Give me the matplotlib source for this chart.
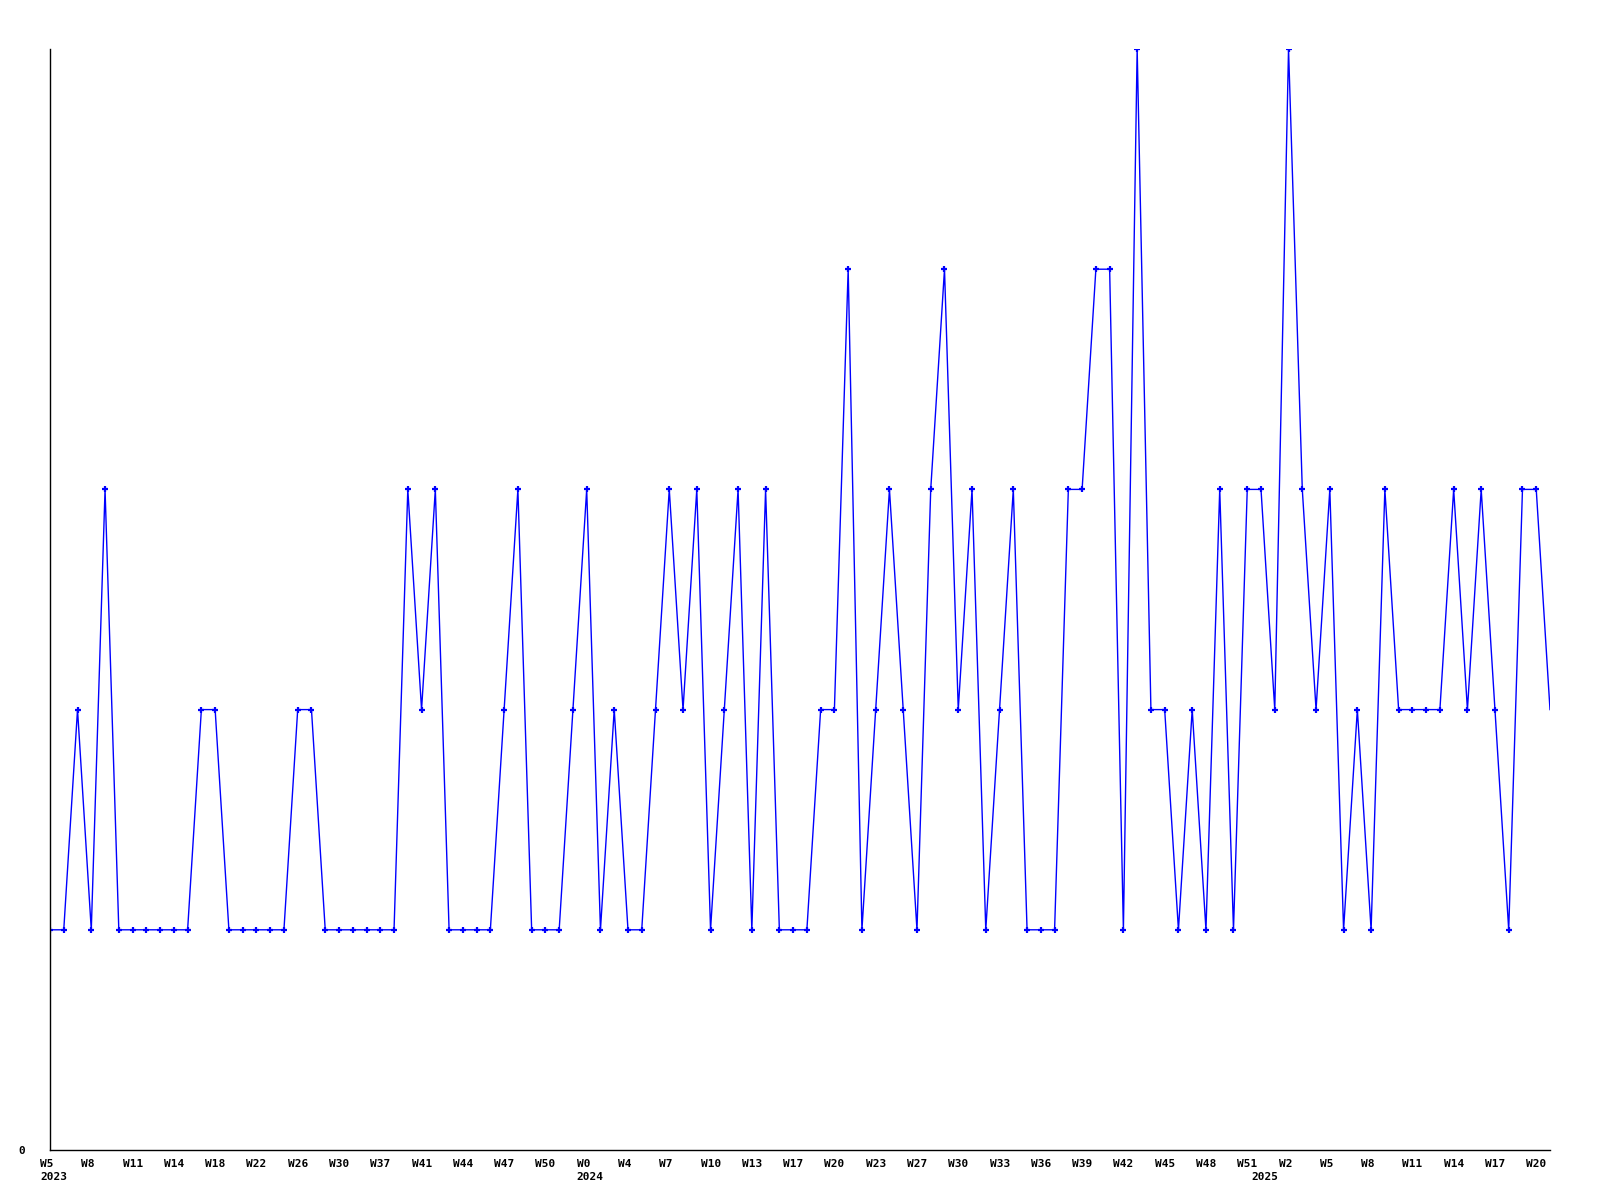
import matplotlib
matplotlib.use("agg")
import matplotlib.pyplot as plt
import matplotlib.transforms as mtransforms

# weekly counts, one per point
values = [1, 1, 2, 1, 3, 1, 1, 1, 1, 1,
          1, 2, 2, 1, 1, 1, 1, 1, 2, 2,
          1, 1, 1, 1, 1, 1, 3, 2, 3, 1,
          1, 1, 1, 2, 3, 1, 1, 1, 2, 3,
          1, 2, 1, 1, 2, 3, 2, 3, 1, 2,
          3, 1, 3, 1, 1, 1, 2, 2, 4, 1,
          2, 3, 2, 1, 3, 4, 2, 3, 1, 2,
          3, 1, 1, 1, 3, 3, 4, 4, 1, 5,
          2, 2, 1, 2, 1, 3, 1, 3, 3, 2,
          5, 3, 2, 3, 1, 2, 1, 3, 2, 2,
          2, 2, 3, 2, 3, 2, 1, 3, 3, 2]

# week labels, every third point
week_labels = ["W5", "W8", "W11", "W14", "W18", "W22", "W26", "W30", "W37",
               "W41", "W44", "W47", "W50", "W0", "W4", "W7", "W10", "W13",
               "W17", "W20", "W23", "W27", "W30", "W33", "W36", "W39", "W42",
               "W45", "W48", "W51", "W2", "W5", "W8", "W11", "W14", "W17",
               "W20"]
label_step = 3

# year labels and the point index where each year starts
years = ["2023", "2024", "2025"]
year_index = [0, 39, 88]

x = list(range(len(values)))

fig = plt.figure(figsize=(16, 12), dpi=100)
ax = fig.add_axes([50 / 1600, 50 / 1200, 1500 / 1600, 1101 / 1200])

ax.plot(x, values, color="#0000ff", linewidth=1.0, marker="+",
        markersize=4.5, markeredgewidth=1.6,
        markevery=slice(0, len(values) - 1))

ax.set_xlim(0, len(values) - 1)
ax.set_ylim(0, 5)

for s in ["top", "right"]:
    ax.spines[s].set_visible(False)
for s in ["left", "bottom"]:
    ax.spines[s].set_linewidth(1.0)
    ax.spines[s].set_color("black")

font = dict(fontfamily="DejaVu Sans Mono", fontweight="bold", fontsize=8)

ax.set_xticks([])
ax.set_yticks([0])
ax.set_yticklabels(["0"], **font)
ax.tick_params(axis="y", length=0, pad=18)

trans = mtransforms.blended_transform_factory(ax.transData, ax.transAxes)
shift = mtransforms.ScaledTranslation(-10 / 100, 0, fig.dpi_scale_trans)

for i, lab in enumerate(week_labels):
    ax.text(i * label_step, -0.008, lab, transform=trans + shift,
            ha="left", va="top", **font)

for yr, idx in zip(years, year_index):
    ax.text(idx, -0.020, yr, transform=trans + shift,
            ha="left", va="top", **font)

plt.savefig("out.png", dpi=100)
